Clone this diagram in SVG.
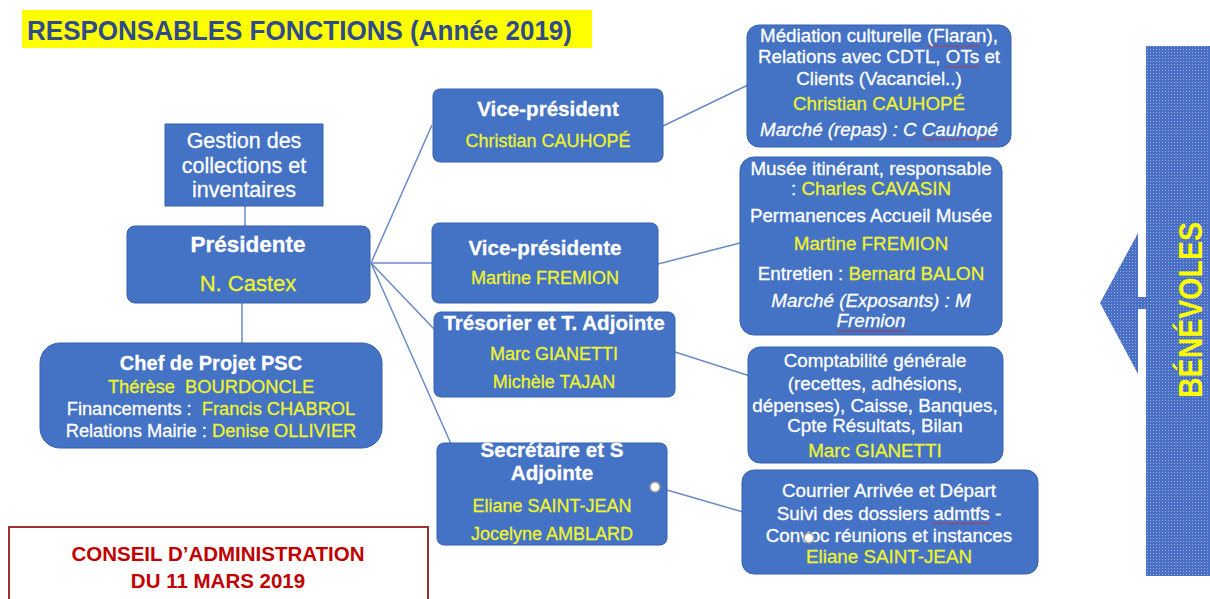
<svg xmlns="http://www.w3.org/2000/svg" width="1210" height="599" viewBox="0 0 1210 599">
<style>
text{font-family:"Liberation Sans",Arial,sans-serif;}
.box{fill:#4472C4;stroke:#3561B0;stroke-width:1;}
.w{fill:#FFFFFF;stroke:#FFFFFF;stroke-width:0.3;}
.y{fill:#EEF22E;stroke:#EEF22E;stroke-width:0.3;}
.b{font-weight:bold;}
.c{text-anchor:middle;}
.r{font-size:18.8px;}
.conn line{stroke:#6A8AC8;stroke-width:1.5;}
</style>
<defs>
<pattern id="dots" width="3" height="3" patternUnits="userSpaceOnUse">
<rect width="3" height="3" fill="#4A70C6"/>
<rect x="1" y="1" width="1" height="1" fill="#93ABE2"/>
</pattern>
<pattern id="wavy" width="4" height="3" patternUnits="userSpaceOnUse">
<path d="M0,2.5 L2,0.5 L4,2.5" fill="none" stroke="#D02828" stroke-width="0.9"/>
</pattern>
</defs>
<rect width="1210" height="599" fill="#FFFFFF"/>

<g id="title">
<rect x="22" y="10" width="570" height="38" fill="#FFFF00"/>
<text x="27" y="40" font-size="27" class="b" fill="#2F4B8C" textLength="545" lengthAdjust="spacingAndGlyphs">RESPONSABLES FONCTIONS (Année 2019)</text>
</g>

<g class="conn" id="connectors">
<line x1="245" y1="206" x2="245" y2="226"/>
<line x1="242" y1="303" x2="242" y2="343"/>
<line x1="371" y1="263" x2="432" y2="125"/>
<line x1="371" y1="263" x2="432" y2="263"/>
<line x1="371" y1="263" x2="434" y2="329"/>
<line x1="371" y1="263" x2="451" y2="444"/>
<line x1="663" y1="126" x2="748" y2="85"/>
<line x1="658" y1="264" x2="740" y2="243"/>
<line x1="675" y1="352" x2="750" y2="376"/>
<line x1="660" y1="488" x2="743" y2="512"/>
</g>

<g id="gestion">
<rect class="box" x="165" y="124" width="158" height="82"/>
<text class="w c" x="244" y="148" font-size="21.5">Gestion des</text>
<text class="w c" x="244" y="173" font-size="21.5">collections et</text>
<text class="w c" x="244" y="197" font-size="21.5">inventaires</text>
</g>

<g id="presidente">
<rect class="box" x="127" y="226" width="243" height="77" rx="8"/>
<text class="w c b" x="248" y="252" font-size="22.5">Présidente</text>
<text class="y c" x="248" y="291" font-size="22">N. Castex</text>
</g>

<g id="chef">
<rect class="box" x="40" y="343" width="342" height="105" rx="20"/>
<text class="w c b" x="211" y="370" font-size="20">Chef de Projet PSC</text>
<text class="y c" x="211" y="393" font-size="18.3" xml:space="preserve">Thérèse  BOURDONCLE</text>
<text class="c" x="211" y="415" font-size="18.3" xml:space="preserve"><tspan class="w">Financements :  </tspan><tspan class="y">Francis CHABROL</tspan></text>
<text class="c" x="211" y="437" font-size="18.3"><tspan class="w">Relations Mairie : </tspan><tspan class="y">Denise OLLIVIER</tspan></text>
</g>

<g id="vp">
<rect class="box" x="433" y="89" width="230" height="73" rx="7"/>
<text class="w c b" x="548" y="116" font-size="20.6">Vice-président</text>
<text class="y c" x="548" y="147" font-size="18">Christian CAUHOPÉ</text>
</g>

<g id="vpe">
<rect class="box" x="432" y="223" width="226" height="80" rx="7"/>
<text class="w c b" x="545" y="255" font-size="20.6">Vice-présidente</text>
<text class="y c" x="545" y="284" font-size="18">Martine FREMION</text>
</g>

<g id="tresorier">
<rect class="box" x="434" y="312" width="241" height="85" rx="7"/>
<text class="w c b" x="554" y="330" font-size="20.6">Trésorier et T. Adjointe</text>
<text class="y c" x="554" y="360" font-size="18">Marc GIANETTI</text>
<text class="y c" x="554" y="388" font-size="18">Michèle TAJAN</text>
</g>

<g id="secretaire">
<rect class="box" x="437" y="443" width="230" height="102" rx="7"/>
<text class="w c b" x="552" y="457" font-size="20.6">Secrétaire et S</text>
<text class="w c b" x="552" y="480" font-size="20.6">Adjointe</text>
<text class="y c" x="552" y="512" font-size="18">Eliane SAINT-JEAN</text>
<text class="y c" x="552" y="540" font-size="18">Jocelyne AMBLARD</text>
<circle cx="655" cy="487" r="5" fill="#FFFFFF" stroke="#9A9A9A" stroke-width="1.5"/>
</g>

<g id="mediation">
<rect class="box" x="747" y="25" width="264" height="122" rx="12"/>
<text class="w c r" x="879" y="42">Médiation culturelle (Flaran),</text>
<text class="w c r" x="879" y="63">Relations avec CDTL, OTs et</text>
<text class="w c r" x="879" y="85">Clients (Vacanciel..)</text>
<text class="y c r" x="879" y="110">Christian CAUHOPÉ</text>
<text class="w c r" x="879" y="136" font-style="italic">Marché (repas) : C Cauhopé</text>
<rect x="927" y="44" width="53" height="3" fill="url(#wavy)"/>
<rect x="945" y="65" width="35" height="3" fill="url(#wavy)"/>
<rect x="922" y="138" width="76" height="3" fill="url(#wavy)"/>
</g>

<g id="musee">
<rect class="box" x="740" y="157" width="262" height="178" rx="14"/>
<text class="w c r" x="871" y="175">Musée itinérant, responsable</text>
<text class="c r" x="871" y="195"><tspan class="w">: </tspan><tspan class="y">Charles CAVASIN</tspan></text>
<text class="w c r" x="871" y="222">Permanences Accueil Musée</text>
<text class="y c r" x="871" y="250">Martine FREMION</text>
<text class="c r" x="871" y="280"><tspan class="w">Entretien : </tspan><tspan class="y">Bernard BALON</tspan></text>
<text class="w c r" x="871" y="307" font-style="italic">Marché (Exposants) : M</text>
<text class="w c r" x="871" y="327" font-style="italic">Fremion</text>
<rect x="836" y="329" width="70" height="3" fill="url(#wavy)"/>
</g>

<g id="compta">
<rect class="box" x="748" y="347" width="255" height="116" rx="12"/>
<text class="w c r" x="875" y="367">Comptabilité générale</text>
<text class="w c r" x="875" y="390">(recettes, adhésions,</text>
<text class="w c r" x="875" y="412">dépenses), Caisse, Banques,</text>
<text class="w c r" x="875" y="432">Cpte Résultats, Bilan</text>
<text class="y c r" x="875" y="457">Marc GIANETTI</text>
</g>

<g id="courrier">
<rect class="box" x="742" y="470" width="296" height="104" rx="12"/>
<text class="w c r" x="889" y="497">Courrier Arrivée et Départ</text>
<text class="w c r" x="889" y="520">Suivi des dossiers admtfs -</text>
<text class="w c r" x="889" y="542">Convoc réunions et instances</text>
<text class="y c r" x="889" y="563">Eliane SAINT-JEAN</text>
<rect x="933" y="522" width="57" height="3" fill="url(#wavy)"/>
<circle cx="809" cy="538" r="5" fill="#FFFFFF" stroke="#9A9A9A" stroke-width="1.5"/>
</g>

<g id="benevoles">
<rect x="1146" y="46" width="64" height="530" fill="url(#dots)"/>
<polygon points="1100,303 1138,233 1138,297 1146,297 1146,309 1138,309 1138,374" fill="url(#dots)"/>
<text transform="translate(1202,310) rotate(-90)" class="c b" font-size="34" fill="#FFFF00" textLength="176" lengthAdjust="spacingAndGlyphs">BÉNÉVOLES</text>
</g>

<g id="conseil">
<rect x="9" y="527" width="419" height="80" fill="#FFFFFF" stroke="#A03030" stroke-width="2"/>
<text class="c b" x="218" y="561" font-size="20.5" fill="#C00000">CONSEIL D’ADMINISTRATION</text>
<text class="c b" x="218" y="588" font-size="20.5" fill="#C00000">DU 11 MARS 2019</text>
</g>
</svg>
